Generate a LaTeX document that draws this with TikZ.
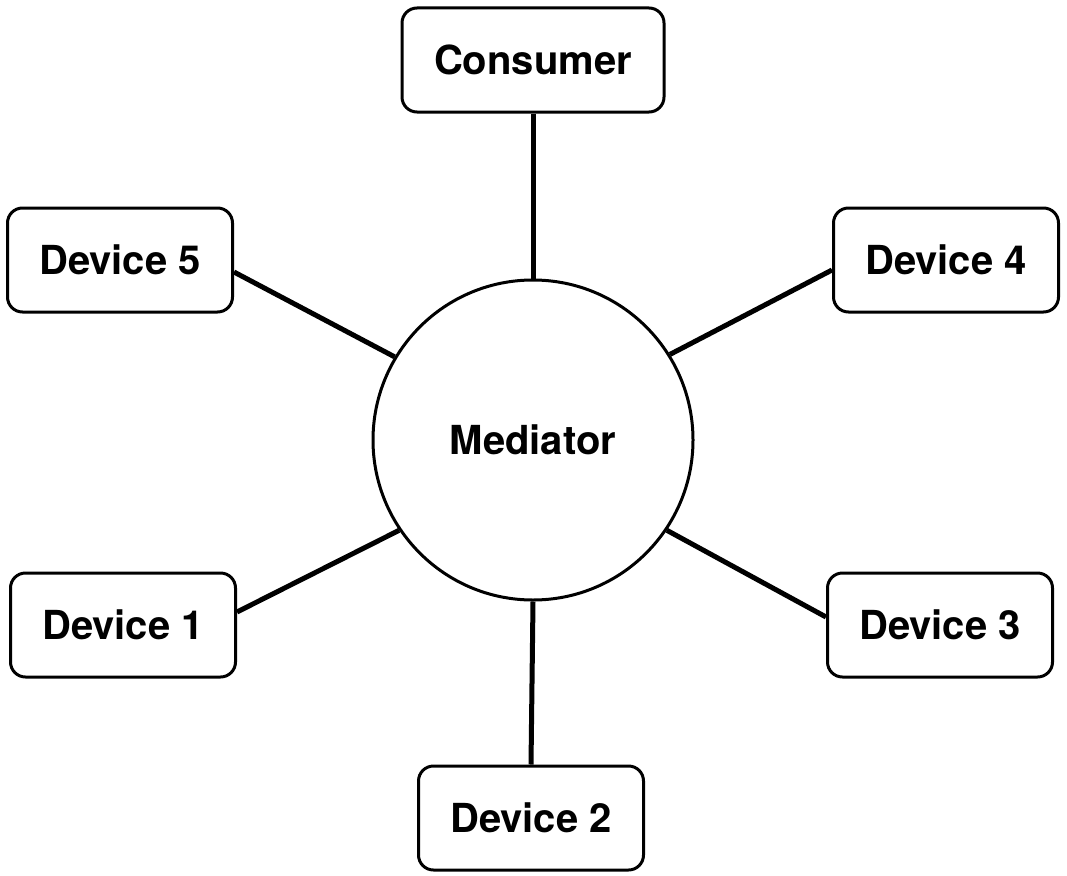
\documentclass[tikz,border=0pt]{standalone}
\usepackage{fontspec}
\setmainfont{TeX Gyre Heros}
\begin{document}
\begin{tikzpicture}[x=1pt,y=-1pt,
  box/.style={draw,line width=3pt,rounded corners=15pt,minimum width=225pt,minimum height=104pt,font=\fontsize{40}{48}\selectfont\bfseries,inner sep=0pt},
  hub/.style={draw,circle,line width=3pt,minimum size=320pt,font=\fontsize{40}{48}\selectfont\bfseries,inner sep=0pt},
  link/.style={line width=5pt}]
\useasboundingbox (0,0) rectangle (1067,875);
\node[hub] (m) at (533,440) {Mediator};
\node[box,minimum width=262pt] (c) at (533,60) {Consumer};
\node[box] (d5) at (120,260) {Device 5};
\node[box] (d4) at (946,260) {Device 4};
\node[box] (d1) at (123,625) {Device 1};
\node[box] (d3) at (940,625) {Device 3};
\node[box] (d2) at (531,818) {Device 2};
\draw[link] (c.south) -- (m.north);
\draw[link] (d2.north) -- (m.south);
\draw[link] ([yshift=-12pt]d5.east) -- (m.149);
\draw[link] ([yshift=-10pt]d4.west) -- (m.32);
\draw[link] ([yshift=13pt]d1.east) -- (m.214);
\draw[link] ([yshift=8pt]d3.west) -- (m.-34);
\end{tikzpicture}
\end{document}
